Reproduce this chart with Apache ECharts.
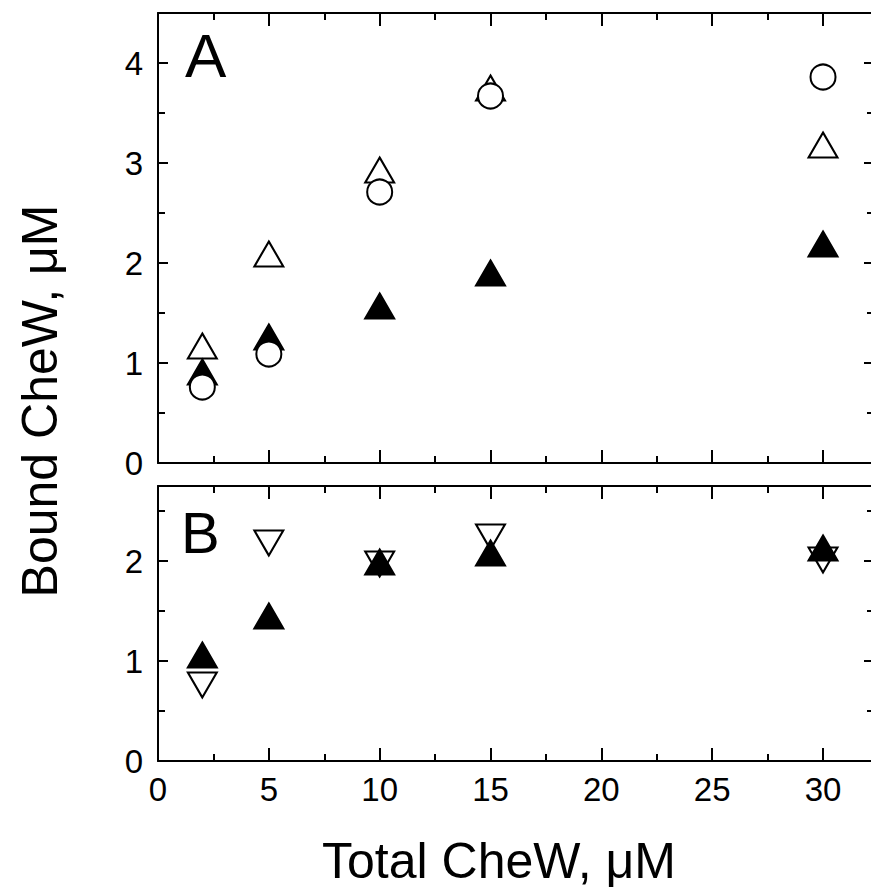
<!DOCTYPE html>
<html><head><meta charset="utf-8">
<script src="https://cdn.jsdelivr.net/npm/echarts@6/dist/echarts.min.js"></script>
<style>html,body{margin:0;padding:0;background:#fff;overflow:hidden}#main{width:871px;height:890px}</style>
</head><body><div id="main"></div>
<script>
// ---- data ----
const totalCheW = [2, 5, 10, 15, 30];
const panelA_openTriangle = [1.17, 2.09, 2.93, 3.75, 3.18];
const panelA_openCircle = [0.76, 1.09, 2.71, 3.67, 3.86];
const panelA_filledTriangle = [0.91, 1.26, 1.57, 1.90, 2.19];
const panelB_openDownTriangle = [0.76, 2.18, 1.97, 2.24, 2.01];
const panelB_filledTriangle = [1.06, 1.45, 1.99, 2.08, 2.13];
const xTickLabels = [0, 5, 10, 15, 20, 25, 30];
const yTickLabelsA = [0, 1, 2, 3, 4];
const yTickLabelsB = [0, 1, 2];
const panelLabels = ['A', 'B'];
const xTitle = 'Total CheW, μM';
const yTitle = 'Bound CheW, μM';

// ---- layout / style ----
const FONT = '"Liberation Sans", Arial, Helvetica, sans-serif';
const X_MAX = 32.3;
const grids = [
  { left: 158, top: 13, width: 716, height: 450, yMax: 4.5, yLabels: yTickLabelsA, showX: false },
  { left: 158, top: 486, width: 716, height: 275, yMax: 2.75, yLabels: yTickLabelsB, showX: true }
];
const LINE = { color: '#000', width: 2 };

const xAxes = [], yAxes = [];
grids.forEach((g, gi) => {
  const mk = (position, interval, len, major, labels) => ({
    type: 'value', gridIndex: gi, position, min: 0, max: X_MAX, interval,
    axisLine: { show: major, onZero: false, lineStyle: LINE },
    axisTick: { show: true, inside: true, length: len, lineStyle: LINE },
    axisLabel: {
      show: labels, showMaxLabel: false, margin: 12, fontSize: 33, color: '#000', fontFamily: FONT,
      formatter: v => (xTickLabels.includes(v) ? String(v) : '')
    },
    splitLine: { show: false }, minorTick: { show: false }
  });
  xAxes.push(mk('bottom', 5, 13, true, g.showX));
  xAxes.push(mk('bottom', 2.5, 7, false, false));
  xAxes.push(mk('top', 5, 13, true, false));
  xAxes.push(mk('top', 2.5, 7, false, false));
  const mky = (position, interval, len, major, labels) => ({
    type: 'value', gridIndex: gi, position, min: 0, max: g.yMax, interval,
    axisLine: { show: major, onZero: false, lineStyle: LINE },
    axisTick: { show: true, inside: true, length: len, lineStyle: LINE },
    axisLabel: {
      show: labels, showMaxLabel: false, margin: 15, fontSize: 33, color: '#000', fontFamily: FONT,
      formatter: v => (g.yLabels.includes(v) ? String(v) : '')
    },
    splitLine: { show: false }, minorTick: { show: false }
  });
  yAxes.push(mky('left', 1, 10, true, true));
  yAxes.push(mky('left', 0.5, 7, false, false));
  yAxes.push(mky('right', 1, 10, true, false));
  yAxes.push(mky('right', 0.5, 7, false, false));
});

const openStyle = { color: '#fff', borderColor: '#000', borderWidth: 2, opacity: 1 };
const filledStyle = { color: '#000', borderColor: '#000', borderWidth: 2, opacity: 1 };
const TRI = [29, 25];
function sc(gi, values, symbol, size, style, rotate) {
  return {
    type: 'scatter', xAxisIndex: gi * 4, yAxisIndex: gi * 4,
    data: totalCheW.map((x, i) => [x, values[i]]),
    symbol, symbolSize: size, symbolRotate: rotate || 0,
    itemStyle: style, emphasis: { disabled: true }, silent: true
  };
}

const option = {
  animation: false,
  backgroundColor: '#fff',
  grid: grids.map(g => ({ left: g.left, top: g.top, width: g.width, height: g.height, containLabel: false, outerBoundsMode: 'none' })),
  xAxis: xAxes,
  yAxis: yAxes,
  series: [
    sc(0, panelA_openTriangle, 'triangle', TRI, openStyle),
    sc(0, panelA_filledTriangle, 'triangle', TRI, filledStyle),
    sc(0, panelA_openCircle, 'circle', 25, openStyle),
    sc(1, panelB_openDownTriangle, 'triangle', TRI, openStyle, 180),
    sc(1, panelB_filledTriangle, 'triangle', TRI, filledStyle)
  ],
  graphic: [
    { type: 'text', left: 185, top: 24, style: { text: panelLabels[0], fontSize: 62, fontFamily: FONT, fill: '#000' } },
    { type: 'text', left: 181, top: 503, style: { text: panelLabels[1], fontSize: 58, fontFamily: FONT, fill: '#000' } },
    { type: 'text', x: 499, y: 861, style: { text: xTitle, fontSize: 50, fontFamily: FONT, fill: '#000', align: 'center', verticalAlign: 'middle' } },
    { type: 'text', x: 40, y: 401, rotation: Math.PI / 2, style: { text: yTitle, fontSize: 50, fontFamily: FONT, fill: '#000', align: 'center', verticalAlign: 'middle' } }
  ]
};
const chart = echarts.init(document.getElementById('main'), null, { renderer: 'svg' });
chart.setOption(option);
</script>
</body></html>
